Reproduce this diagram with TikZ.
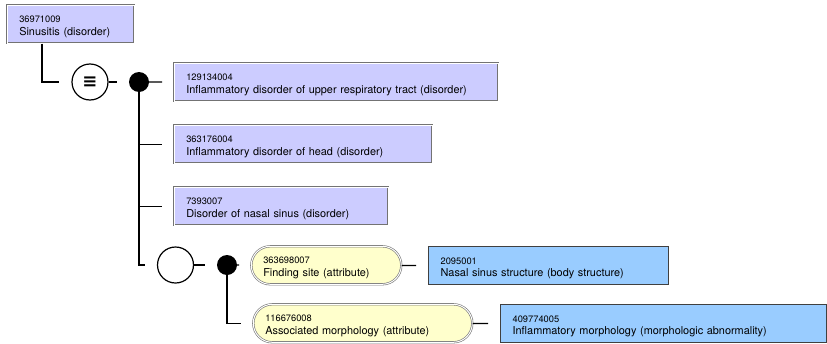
\documentclass[tikz,border=0pt]{standalone}
\usepackage{fontspec}
\setmainfont{TeX Gyre Heros}
\newfontfamily\opfont{DejaVu Sans}
\usetikzlibrary{positioning,calc}
\definecolor{defnfill}{RGB}{204,204,255}
\definecolor{attrfill}{RGB}{255,255,204}
\definecolor{primfill}{RGB}{153,204,255}
\newcommand{\sct}[2]{{\fontsize{9.3}{12.5}\selectfont\rule{0pt}{12pt}#1}\\#2}

\begin{document}
\begin{tikzpicture}
[x=1pt,y=-1pt,
    defn/.style={draw=black!55,double=white,double distance=1pt,line width=.6pt,
    fill=defnfill,anchor=north west,align=left,inner xsep=12pt,inner ysep=0pt,
    minimum height=38pt,font=\fontsize{10.9}{12.5}\selectfont},
    attr/.style={defn,fill=attrfill,rounded corners=19pt},
    prim/.style={defn,double=none,draw=black!75,line width=1.3pt,fill=primfill},
    opcirc/.style={draw,shape=circle,line width=1.2pt,minimum size=36pt,inner sep=0pt},
    grpdot/.style={fill,shape=circle,minimum size=20pt,inner sep=0pt},
    link/.style={line width=1.3pt,shorten >=12pt}]
\useasboundingbox (0,0) rectangle (827,343);
%%%%%%%%%%
%% focus concept
\node (c1) [defn,text width=103pt] at (7,5) {\sct{36971009}{Sinusitis (disorder)}};
\node (eq) [opcirc,font=\opfont\bfseries\fontsize{18}{18}\selectfont] at (90,82) {≡};
\node (d1) [grpdot] at (139,82) {};
%% parents
\def\parx{174}
\node (p1) [defn,text width=300pt] at (\parx,63) {\sct{129134004}{Inflammatory disorder of upper respiratory tract (disorder)}};
\node (p2) [defn,text width=234pt] at (\parx,125) {\sct{363176004}{Inflammatory disorder of head (disorder)}};
\node (p3) [defn,text width=190pt] at (\parx,187) {\sct{7393007}{Disorder of nasal sinus (disorder)}};
%% relationship group
\node (grp) [opcirc] at (175.5,265) {};
\node (d2) [grpdot] at (227,265) {};
\node (a1) [attr,text width=126pt] at (251,246) {\sct{363698007}{Finding site (attribute)}};
\node (a2) [attr,text width=195pt] at (253,304) {\sct{116676008}{Associated morphology (attribute)}};
\node (v1) [prim,text width=216pt] at (428,246) {\sct{2095001}{Nasal sinus structure (body structure)}};
\node (v2) [prim,text width=302pt] at (500,304) {\sct{409774005}{Inflammatory morphology (morphologic abnormality)}};
%% edges
\draw[link] ([xshift=35pt]c1.south west) |- (eq);
\draw[link] (eq) -- (d1);
\draw[link] (d1) -- (p1);
\draw[link] (d1) |- (p2);
\draw[link] (d1) |- (p3);
\draw[link] (d1) |- (grp);
\draw[link] (grp) -- (d2);
\draw[link] (d2) -- (a1);
\draw[link] (d2) |- (a2);
\draw[link] (a1) -- (v1);
\draw[link] (a2) -- (v2);
%%
\end{tikzpicture}
\end{document}
